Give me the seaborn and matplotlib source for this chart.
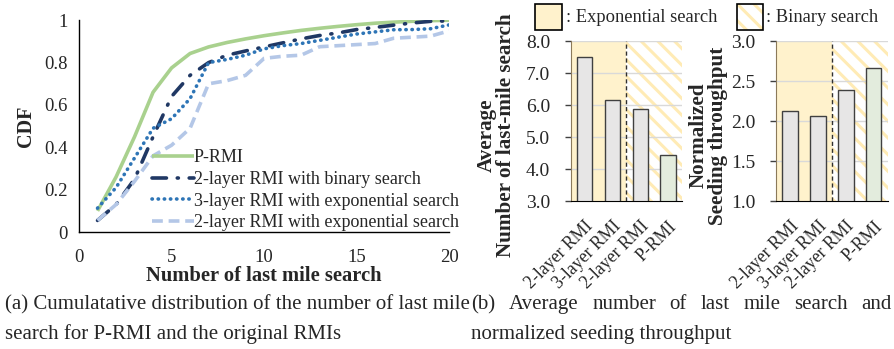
import numpy as np
import pandas as pd
import seaborn as sns
import matplotlib.pyplot as plt
from matplotlib.patches import Rectangle

# data, left: CDF of last mile search
search_num = list(range(1, 21))
cdf_prmi = [0.10, 0.26, 0.45, 0.66, 0.775, 0.843, 0.874, 0.895, 0.912, 0.927,
            0.94, 0.952, 0.962, 0.971, 0.979, 0.986, 0.991, 0.995, 0.998, 1.0]
cdf_2l_bin = [0.055, 0.13, 0.25, 0.45, 0.64, 0.74, 0.80, 0.835, 0.855, 0.874,
              0.893, 0.912, 0.928, 0.94, 0.956, 0.966, 0.977, 0.987, 0.995, 0.997]
cdf_3l_exp = [0.113, 0.21, 0.35, 0.49, 0.535, 0.63, 0.80, 0.815, 0.835, 0.865,
              0.88, 0.89, 0.905, 0.92, 0.935, 0.945, 0.955, 0.956, 0.96, 0.978]
cdf_2l_exp = [0.055, 0.13, 0.24, 0.36, 0.41, 0.49, 0.70, 0.715, 0.74, 0.82,
              0.83, 0.835, 0.875, 0.88, 0.885, 0.89, 0.915, 0.92, 0.925, 0.95]

# data, right: bars
models = ['2-layer RMI', '3-layer RMI', '2-layer RMI ', 'P-RMI']
avg_search = [7.52, 6.15, 5.88, 4.45]
seeding_tp = [2.13, 2.06, 2.39, 2.66]

sns.set_style('white')
plt.rcParams['font.family'] = ['Liberation Serif', 'DejaVu Serif']
plt.rcParams['hatch.linewidth'] = 2.2

HATCH_COL = '#FFEBB5'
EXP_COL = '#FFF2CC'

fig = plt.figure(figsize=(8.94, 3.49), dpi=100)

# ---- (a) CDF ----
ax = fig.add_axes([0.0884, 0.335, 0.414, 0.607])
series = [
    (cdf_prmi, 'P-RMI', '#A9D18E', '-', 'butt'),
    (cdf_2l_bin, '2-layer RMI with binary search', '#203864', (0, (4, 3, 0.3, 3)), 'round'),
    (cdf_3l_exp, '3-layer RMI with exponential search', '#2E75B6', (0, (0.1, 1.6)), 'round'),
    (cdf_2l_exp, '2-layer RMI with exponential search', '#B4C7E7', (0, (3, 1.6)), 'butt'),
]
for vals, lab, col, ls, cap in series:
    sns.lineplot(x=search_num, y=vals, ax=ax, color=col, linewidth=2.6,
                 linestyle=ls, label=lab, solid_capstyle=cap, dash_capstyle=cap)
ax.set_xlim(0, 20)
ax.set_ylim(0, 1)
ax.set_xticks([0, 5, 10, 15, 20])
ax.set_yticks([0, 0.2, 0.4, 0.6, 0.8, 1.0])
ax.set_yticklabels(['0', '0.2', '0.4', '0.6', '0.8', '1'])
ax.tick_params(axis='y', labelsize=13.5, length=0, pad=8)
ax.tick_params(axis='x', labelsize=13.5, length=0, pad=12)
ax.set_xlabel('Number of last mile search', fontsize=14.8, fontweight='bold', labelpad=0)
ax.set_ylabel('CDF', fontsize=14.5, fontweight='bold', labelpad=6)
for s in ['top', 'right']:
    ax.spines[s].set_visible(False)
for s in ['left', 'bottom']:
    ax.spines[s].set_color('black')
    ax.spines[s].set_linewidth(1.0)
ax.legend(loc='lower right', bbox_to_anchor=(1.045, -0.03), frameon=False,
          fontsize=13, handlelength=2.3, handletextpad=0.0, labelspacing=0.26,
          borderaxespad=0)

# ---- (b) bars ----
def bar_panel(rect, vals, ylim, yticks, ylabel, lab_x):
    bx = fig.add_axes(rect)
    bx.axvspan(-0.5, 1.5, color=EXP_COL, zorder=0, lw=0)
    bx.axvspan(1.5, 3.5, facecolor='white', edgecolor=HATCH_COL, hatch='\\\\',
               lw=0, zorder=0)
    for t in yticks[1:]:
        bx.axhline(t, color='#D9D9D9', lw=1.0, zorder=1)
    df = pd.DataFrame({'model': models, 'val': vals})
    sns.barplot(data=df, x='model', y='val', hue='model', legend=False,
                palette=['#E7E6E6', '#E7E6E6', '#E7E6E6', '#E2EFDA'],
                width=0.55, edgecolor='#404040', linewidth=1.0, ax=bx, zorder=2)
    bx.axvline(1.5, color='#303030', ls=(0, (3, 2)), lw=1.0, zorder=3)
    bx.set_xlim(-0.5, 3.5)
    bx.set_ylim(*ylim)
    bx.set_yticks(yticks)
    bx.set_yticklabels(['{:.1f}'.format(t) for t in yticks])
    bx.set_xticks(range(4))
    bx.set_xticklabels([m.strip() for m in models], rotation=45, ha='right',
                       rotation_mode='anchor', fontsize=12.8)
    bx.set_xticks([0.5, 1.5, 2.5], minor=True)
    bx.tick_params(axis='x', which='major', length=0, pad=12)
    bx.tick_params(axis='x', which='minor', length=5, width=1, color='black', direction='out')
    bx.tick_params(axis='y', labelsize=14, length=4, width=1, color='#404040',
                   direction='out', left=True, pad=11)
    bx.set_xlabel('')
    bx.set_ylabel(ylabel, fontsize=15.2, fontweight='bold', linespacing=0.95)
    bx.yaxis.set_label_coords(lab_x, 0.41)
    for s in ['top', 'right']:
        bx.spines[s].set_visible(False)
    bx.spines['left'].set_color('#8C7A5A')
    bx.spines['bottom'].set_color('black')
    return bx

bar_panel([0.6387, 0.424, 0.124, 0.458], avg_search, (3, 8),
          [3, 4, 5, 6, 7, 8], 'Average\nNumber of last-mile search', -0.50)
bar_panel([0.868, 0.424, 0.125, 0.458], seeding_tp, (1, 3),
          [1.0, 1.5, 2.0, 2.5, 3.0], 'Normalized\nSeeding throughput', -0.43)

# top legend boxes for search type
W, H = 894, 349
def fig_box(x0, y0, w, h, **kw):
    fig.add_artist(Rectangle((x0 / W, 1 - (y0 + h) / H), w / W, h / H,
                             transform=fig.transFigure, **kw))

fig_box(535, 4, 27, 26, facecolor=EXP_COL, edgecolor='black', lw=1.2)
fig_box(737, 4, 26, 26, facecolor='white', edgecolor=HATCH_COL, hatch='\\\\', lw=0)
fig_box(737, 4, 26, 26, fill=False, edgecolor='black', lw=1.2)
fig.text(566 / W, 1 - 17 / H, ': Exponential search', fontsize=13.3, va='center')
fig.text(766 / W, 1 - 17 / H, ': Binary search', fontsize=13.3, va='center')

# captions
cap_kw = dict(fontsize=15, va='baseline')
fig.text(5 / W, 1 - 309 / H, '(a) Cumulatative distribution of the number of last mile', **cap_kw)
fig.text(5 / W, 1 - 339 / H, 'search for P-RMI and the original RMIs', **cap_kw)

# justified first line of caption (b): spread words evenly
b_words = ['(b)', 'Average', 'number', 'of', 'last', 'mile', 'search', 'and']
renderer = fig.canvas.get_renderer()
texts = [fig.text(0, 1 - 309 / H, w, **cap_kw) for w in b_words]
widths = [t.get_window_extent(renderer).width for t in texts]
x_start, x_end = 471, 892
gap = (x_end - x_start - sum(widths)) / (len(b_words) - 1)
xp = x_start
for t, wd in zip(texts, widths):
    t.set_x(xp / W)
    xp += wd + gap
fig.text(471 / W, 1 - 339 / H, 'normalized seeding throughput', **cap_kw)

fig.savefig('out.png', dpi=100)
